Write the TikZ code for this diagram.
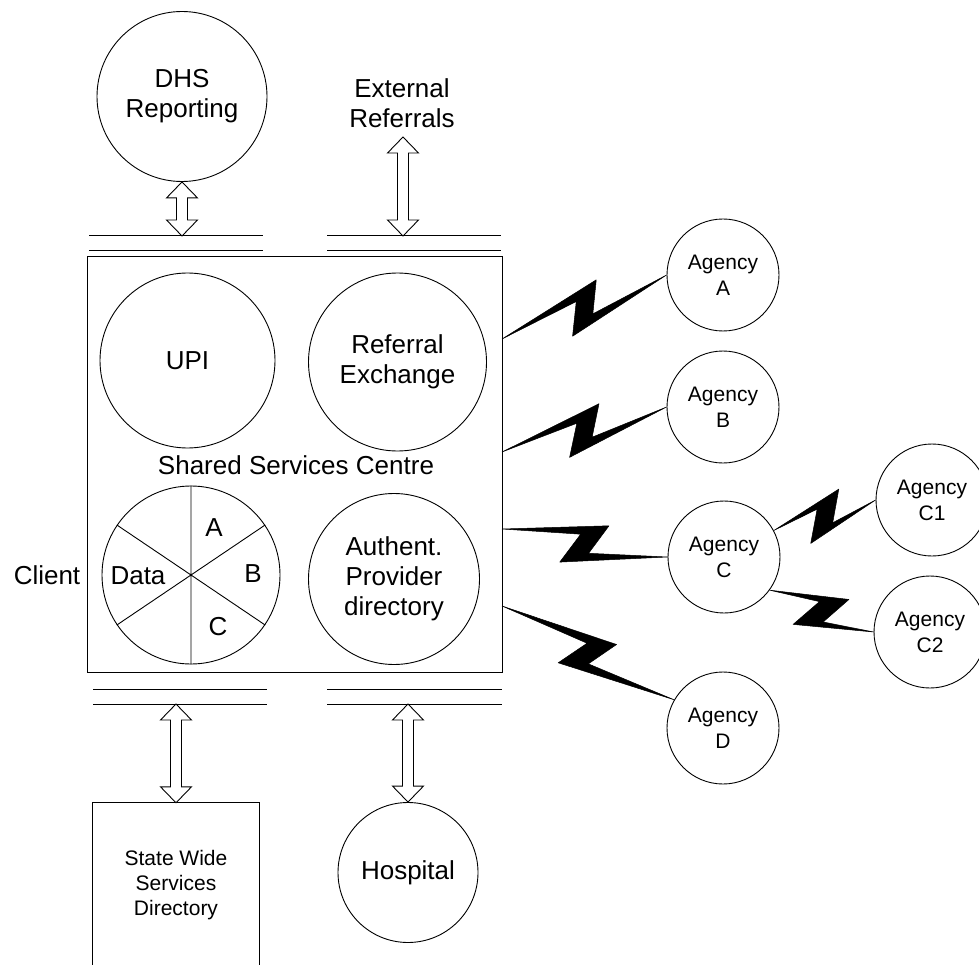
\documentclass[tikz,border=0pt]{standalone}
\usepackage{fontspec}
\setmainfont{Liberation Sans}
\usetikzlibrary{calc}

\tikzset{
  big/.style={font=\fontsize{26}{30}\selectfont, align=center},
  small/.style={font=\fontsize{21}{26}\selectfont, align=center},
  ring/.style={draw, circle, inner sep=0pt, line width=0.9pt},
  agency/.style={ring, small, minimum size=112pt},
  rail/.style={line width=1pt},
  hollow/.style={draw, fill=white, line width=0.9pt, line join=miter},
  boltfill/.style={fill=black, draw=black, line width=0.5pt, line join=round},
  label/.style={big, inner sep=0pt},
}

% vertical double-headed hollow arrow, #1 above #2
\newcommand\railarrow[2]{%
  \path[hollow] let \p1=(#1), \p2=(#2) in
    (\x1,\y1) -- (\x1+15.5pt,\y1-16pt) -- (\x1+5.5pt,\y1-16pt)
    -- (\x1+5.5pt,\y2+16pt) -- (\x1+15.5pt,\y2+16pt) -- (\x1,\y2)
    -- (\x1-15.5pt,\y2+16pt) -- (\x1-5.5pt,\y2+16pt)
    -- (\x1-5.5pt,\y1-16pt) -- (\x1-15.5pt,\y1-16pt) -- cycle;}

% tapered lightning link from #1 to #2
\newcommand\zbolt[2]{%
  \path[boltfill] let \p1=(#1), \p2=(#2),
      \n1={atan2(\y2-\y1,\x2-\x1)}, \n2={0.5*veclen(\x2-\x1,\y2-\y1)} in
    [shift={($(\p1)!0.5!(\p2)$)}, rotate=\n1]
    (-\n2,0pt) -- (21pt,21pt) -- (5.5pt,-9.5pt) -- (\n2,0pt)
    -- (-21.5pt,-23pt) -- (-5.5pt,8pt) -- cycle;}

\begin{document}
\begin{tikzpicture}[x=1pt,y=-1pt]
\useasboundingbox (0,0) rectangle (979,965);
\fill[white] (0,0) rectangle (979,965);

% outside services
\node[ring, big, minimum size=170pt] (dhs) at (182,96.5) {DHS\\Reporting};
\node[label] (ext) at (402,103) {External\\Referrals};

% interface rails above the centre
\draw[rail] (89,236) -- (263,236) (89,251) -- (263,251);
\draw[rail] (327,236) -- (501,236) (327,251) -- (501,251);
\coordinate (railTL) at (182,236);
\coordinate (railTR) at (403,236);
\coordinate (extIn) at (403,137);

\railarrow{dhs.south}{railTL}
\railarrow{extIn}{railTR}

% shared services centre
\node[draw, line width=1pt, minimum width=415pt, minimum height=415pt, inner sep=0pt] (ssc) at (294.5,464.5) {};
\node[ring, big, minimum size=175pt] (upi) at (187.5,360.5) {UPI};
\node[ring, big, minimum size=178pt] (rex) at (397.5,362) {Referral\\Exchange};
\node[label] (sscl) at (296,465) {Shared Services Centre};
\node[ring, minimum size=178pt] (pie) at (191,575) {};
\draw[line width=0.9pt] (pie.90) -- (pie.270) (pie.146) -- (pie.-34) (pie.34) -- (pie.214);
\node[label] (pa) at (214,528) {A};
\node[label] (pb) at (253,574) {B};
\node[label] (pc) at (218,627) {C};
\node[label] (pdata) at (138,576) {Data};
\node[ring, big, minimum size=171pt] (auth) at (394,579) {Authent.\\Provider\\directory};
\node[label] (client) at (47,575) {Client};

% interface rails below the centre
\draw[rail] (93,689) -- (267,689) (93,704) -- (267,704);
\draw[rail] (327,689) -- (502,689) (327,704) -- (502,704);
\coordinate (railBL) at (176,704);
\coordinate (railBR) at (408,704);

% services below
\node[small, inner sep=0pt, minimum width=166pt, minimum height=165pt, font=\fontsize{21}{25}\selectfont] (sw) at (176,885.5) {State Wide\\Services\\Directory};
\draw[line width=0.9pt] (sw.south west) -- (sw.north west) -- (sw.north east) -- (sw.south east);
\node[ring, big, minimum size=140pt] (hosp) at (408,872.5) {Hospital};

\railarrow{railBL}{sw.north}
\railarrow{railBR}{hosp.north}

% agencies
\node[agency] (agA) at (723,275) {Agency\\A};
\node[agency] (agB) at (723,407) {Agency\\B};
\node[agency] (agC) at (724,557) {Agency\\C};
\node[agency] (agD) at (723,728) {Agency\\D};
\node[agency] (agC1) at (932,500) {Agency\\C1};
\node[agency] (agC2) at (930,632) {Agency\\C2};

% link points on the centre's right side
\coordinate (lkA) at (502,339);
\coordinate (lkB) at (502,452);
\coordinate (lkC) at (502,529);
\coordinate (lkD) at (502,606);

\zbolt{lkA}{agA.west}
\zbolt{lkB}{agB.west}
\zbolt{lkC}{agC.west}
\zbolt{lkD}{agD.150}
\zbolt{agC.28}{agC1.west}
\zbolt{agC.-36}{agC2.west}
\end{tikzpicture}
\end{document}
